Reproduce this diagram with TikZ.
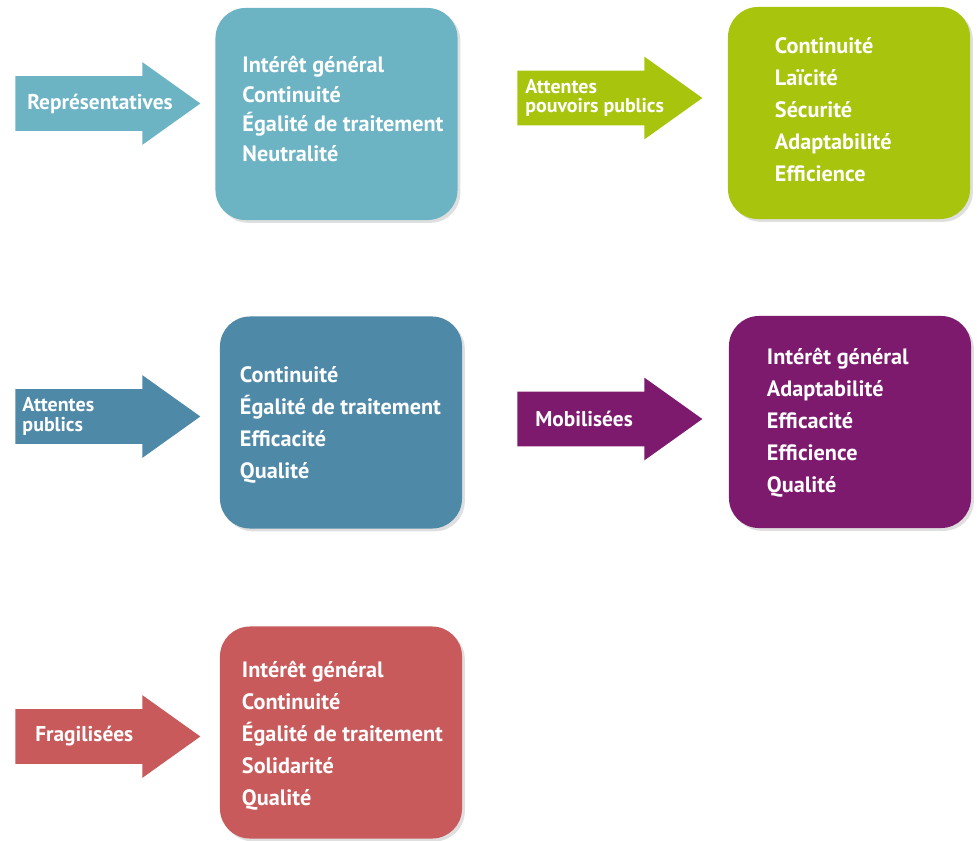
\documentclass[tikz,border=0pt]{standalone}
\usepackage{fontspec}
\setmainfont{PT Sans}
\usetikzlibrary{positioning,shapes.arrows,shadows}
\definecolor{tealA}{HTML}{6CB3C4}
\definecolor{limeB}{HTML}{A8C40C}
\definecolor{blueC}{HTML}{4F89A8}
\definecolor{plumD}{HTML}{7D1A6E}
\definecolor{redE}{HTML}{C85A5C}
\tikzset{
  valbox/.style={rectangle, rounded corners=0.75cm, fill=#1, minimum width=6.05cm, minimum height=5.3cm, inner sep=0pt, drop shadow={shadow xshift=0.07cm, shadow yshift=-0.07cm, opacity=0.25}},
  vals/.style={text=white, align=left, inner sep=0pt, font=\bfseries\fontsize{15.8}{22.8}\selectfont},
  tagarrow/.style={single arrow, fill=#1, anchor=tail, minimum height=4.625cm, minimum width=0pt, single arrow head extend=0.35cm, single arrow tip angle=71, inner xsep=0pt, inner ysep=0.675cm},
  tag/.style={text=white, align=left, inner sep=0pt, font=\bfseries\fontsize{15.2}{14}\selectfont},
  tagtwo/.style={tag, font=\bfseries\fontsize{14.2}{13.6}\selectfont}
}
\begin{document}
\begin{tikzpicture}[x=0.025cm,y=-0.025cm]
  \useasboundingbox (0,0) rectangle (977,840);
  % boxes
  \node[valbox=tealA] (b1) at (336.5,114) {};
  \node[valbox=limeB] (b2) at (849,113) {};
  \node[valbox=blueC] (b3) at (341,422.5) {};
  \node[valbox=plumD] (b4) at (850,422) {};
  \node[valbox=redE] (b5) at (341,732.5) {};
  \node[vals, font=\bfseries\fontsize{15.8}{21}\selectfont, right=0.675cm of b1.west, yshift=0.125cm] (v1) {Intérêt général\\Continuité\\Égalité de traitement\\Neutralité};
  \node[vals, right=1.175cm of b2.west, yshift=0.09cm] (v2) {Continuité\\Laïcité\\Sécurité\\Adaptabilité\\Efficience};
  \node[vals, right=0.5cm of b3.west, yshift=-0.05cm] (v3) {Continuité\\Égalité de traitement\\Efficacité\\Qualité};
  \node[vals, right=0.95cm of b4.west, yshift=-0.025cm] (v4) {Intérêt général\\Adaptabilité\\Efficacité\\Efficience\\Qualité};
  \node[vals, right=0.55cm of b5.west, yshift=-0.075cm] (v5) {Intérêt général\\Continuité\\Égalité de traitement\\Solidarité\\Qualité};
  % arrows
  \node[tagarrow=tealA] (a1) at (15,103.5) {};
  \node[tagarrow=limeB] (a2) at (517,98) {};
  \node[tagarrow=blueC] (a3) at (15,416.5) {};
  \node[tagarrow=plumD] (a4) at (517,419) {};
  \node[tagarrow=redE] (a5) at (15,736.5) {};
  \node[tag, right=0.3cm of a1.tail] (l1) {Représentatives};
  \node[tagtwo, right=0.2cm of a2.tail] (l2) {Attentes\\pouvoirs publics};
  \node[tagtwo, right=0.18cm of a3.tail] (l3) {Attentes\\publics};
  \node[tag, right=0.45cm of a4.tail] (l4) {Mobilisées};
  \node[tag, right=0.5cm of a5.tail] (l5) {Fragilisées};
\end{tikzpicture}
\end{document}
